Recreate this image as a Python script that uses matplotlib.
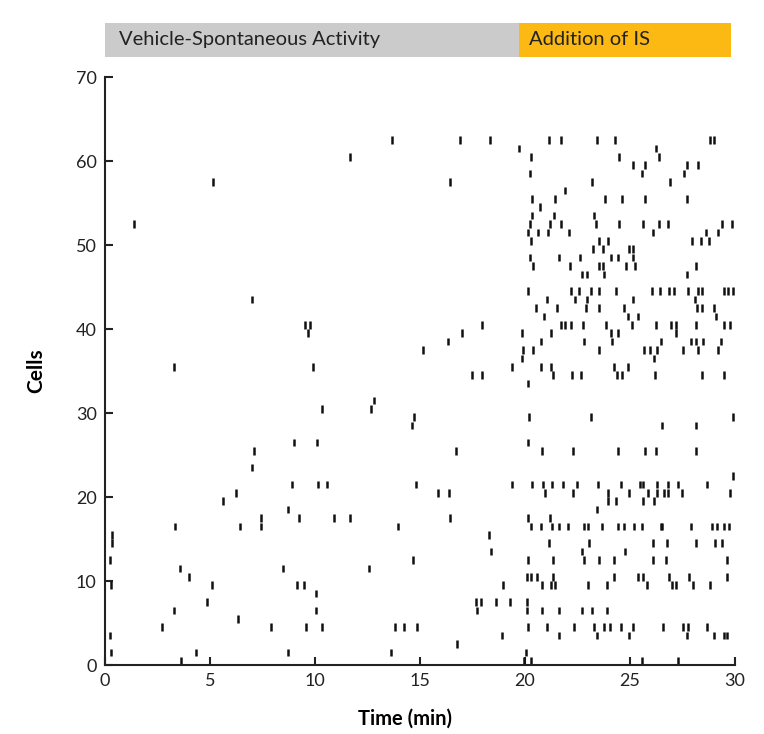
import matplotlib
matplotlib.use('Agg')
import matplotlib.pyplot as plt
from matplotlib.patches import Rectangle
import matplotlib.transforms as mtransforms

plt.rcParams['font.family'] = ['Lato', 'DejaVu Sans']

# spike times (min) per cell
# baseline window (vehicle, spontaneous activity)
vehicle_spikes = {
    0: [3.62], 1: [0.29, 4.35, 8.73, 13.62], 2: [16.76], 3: [0.22, 18.92],
    4: [2.70, 7.89, 9.56, 10.33, 13.83, 14.25, 14.87], 5: [6.32],
    6: [3.30, 10.05, 17.73], 7: [4.86, 17.67, 17.92, 18.62, 19.29],
    8: [10.03], 9: [0.29, 5.11, 9.13, 9.49, 18.97], 10: [4.02],
    11: [3.59, 8.49, 12.59], 12: [0.25, 14.68], 13: [18.38], 14: [0.35],
    15: [0.35, 18.27], 16: [3.33, 6.43, 7.44, 13.94],
    17: [7.41, 9.24, 10.92, 11.65, 16.43], 18: [8.73], 19: [5.63],
    20: [6.25, 15.87, 16.40], 21: [8.89, 10.16, 10.56, 14.81, 19.40],
    23: [6.98], 25: [7.11, 16.70], 26: [9.02, 10.11], 28: [14.60],
    29: [14.71], 30: [10.33, 12.65], 31: [12.83], 34: [17.46, 17.97],
    35: [3.30, 9.92, 19.37], 37: [15.16], 38: [16.35], 39: [9.68, 16.98],
    40: [9.52, 9.76, 17.94], 43: [7.02], 52: [1.40], 57: [5.16, 16.43],
    60: [11.67], 62: [13.65, 16.90, 18.33],
}

# after addition of IS
is_spikes = {
    0: [19.95, 20.27, 25.56, 27.30], 1: [20.05],
    3: [21.63, 23.44, 24.95, 27.70, 29.02, 29.48, 29.60],
    4: [20.16, 21.06, 22.33, 23.30, 23.76, 24.05, 24.57, 25.16, 26.59, 27.54, 27.75, 28.68],
    6: [20.11, 20.83, 21.62, 22.73, 23.17, 23.92], 7: [20.11],
    9: [20.79, 21.22, 21.43, 22.98, 23.92, 25.79, 26.98, 27.17, 28.02, 28.81],
    10: [20.11, 20.29, 20.56, 21.32, 24.24, 25.40, 25.60, 26.87, 27.83, 29.63],
    12: [20.13, 21.32, 22.83, 23.52, 24.25, 26.11, 26.71, 29.60],
    13: [22.73, 24.76],
    14: [21.16, 23.05, 26.11, 26.75, 28.13, 29.05, 29.37],
    16: [20.27, 20.76, 21.27, 21.63, 22.03, 22.83, 23.02, 23.68, 24.44, 24.73,
         25.19, 25.56, 26.48, 26.54, 27.90, 28.92, 29.13, 29.49, 29.71],
    17: [20.13, 21.19], 18: [23.44], 19: [23.97, 24.33, 25.63, 26.16],
    20: [20.95, 22.30, 23.97, 24.97, 25.84, 26.27, 26.63, 26.83, 27.46, 29.76],
    21: [20.32, 20.84, 21.30, 21.79, 22.46, 23.49, 24.57, 25.48, 25.63, 26.27,
         26.83, 27.27, 28.68],
    22: [29.89], 25: [20.79, 22.30, 24.41, 25.71, 26.22, 28.14], 26: [20.16],
    28: [26.54, 28.14], 29: [20.19, 23.14, 29.89], 33: [20.13],
    34: [21.32, 22.25, 22.65, 24.40, 24.63, 26.19, 28.41, 29.48],
    35: [20.76, 21.24, 24.24, 24.92], 36: [19.84, 26.16],
    37: [19.89, 20.40, 23.54, 25.68, 25.95, 26.27, 27.54, 28.22, 29.17],
    38: [20.75, 22.81, 24.13, 26.46, 27.90, 28.14, 28.46, 29.33],
    39: [19.87, 21.24, 24.10, 24.44, 27.19],
    40: [21.71, 21.90, 22.19, 22.78, 23.84, 25.11, 26.24, 26.94, 27.19, 28.14, 29.48, 29.76],
    41: [20.92, 24.92, 25.40, 29.08],
    42: [20.51, 21.54, 22.90, 23.52, 24.73, 28.21, 28.41, 29.00],
    43: [21.06, 22.38, 22.97, 25.16, 28.10],
    44: [20.13, 22.17, 22.57, 23.14, 23.52, 24.33, 26.06, 26.43, 26.87, 27.10,
         27.75, 28.22, 28.44, 29.48, 29.68, 29.92],
    46: [22.73, 22.97, 23.78, 27.70],
    47: [20.37, 22.14, 23.52, 23.73, 24.79, 25.24, 28.13],
    48: [20.24, 21.62, 22.62, 24.10, 24.44, 25.13],
    49: [23.25, 23.70, 24.95, 25.16],
    50: [20.29, 23.52, 23.94, 27.94, 28.38, 28.76],
    51: [20.16, 20.63, 21.11, 22.10, 26.11, 28.62, 29.21],
    52: [20.24, 21.19, 21.70, 23.38, 24.49, 25.63, 26.38, 26.79, 29.40, 29.84],
    53: [20.35, 21.40, 23.27], 54: [20.70],
    55: [20.35, 21.43, 23.81, 24.63, 25.71, 27.73], 56: [21.90],
    57: [23.17, 26.90], 58: [20.24, 25.56, 27.57],
    59: [25.16, 25.71, 27.73, 28.22], 60: [20.29, 24.49, 26.38],
    61: [19.71, 26.22], 62: [21.16, 21.70, 23.41, 24.29, 28.81, 29.02],
}

n_cells = 63
phase_names = ['Vehicle-Spontaneous Activity', 'Addition of IS']
phase_bounds = [(0, 19.71), (19.71, 29.81)]
phase_label_x = [0.67, 20.19]
phase_colors = ['#CBCBCB', '#FDB913']

# build one row per cell
positions = []
for c in range(n_cells):
    positions.append(sorted(vehicle_spikes.get(c, []) + is_spikes.get(c, [])))

fig = plt.figure(figsize=(7.64, 7.34), dpi=100)
ax = fig.add_axes([105 / 764, 69 / 734, 630 / 764, 588 / 734])

ax.eventplot(positions, lineoffsets=[c + 0.5 for c in range(n_cells)],
             linelengths=0.9, linewidths=1.8, colors='#111111')

ax.set_xlim(0, 30)
ax.set_ylim(0, 70)
ax.set_xticks(range(0, 31, 5))
ax.set_yticks(range(0, 71, 10))
ax.tick_params(direction='in', length=6, width=1.5, labelsize=13,
               colors='#222222', pad=6)
for side in ['top', 'right']:
    ax.spines[side].set_visible(False)
for side in ['left', 'bottom']:
    ax.spines[side].set_linewidth(1.5)
    ax.spines[side].set_color('#222222')

ax.set_xlabel('Time (min)', fontsize=14.5, fontweight='bold')
ax.xaxis.set_label_coords(0.476, -0.075)
ax.set_ylabel('Cells', fontsize=15, fontweight='bold')
ax.yaxis.set_label_coords(-0.094, 0.5)

# phase header bars
trans = mtransforms.blended_transform_factory(ax.transData, ax.transAxes)
for name, (x0, x1), tx, col in zip(phase_names, phase_bounds, phase_label_x, phase_colors):
    ax.add_patch(Rectangle((x0, 1.034), x1 - x0, 0.058, transform=trans,
                           facecolor=col, edgecolor='none', clip_on=False))
    ax.text(tx, 1.063, name, transform=trans, fontsize=14.5,
            va='center', ha='left', color='#222222')

fig.savefig('out.png', dpi=100)
